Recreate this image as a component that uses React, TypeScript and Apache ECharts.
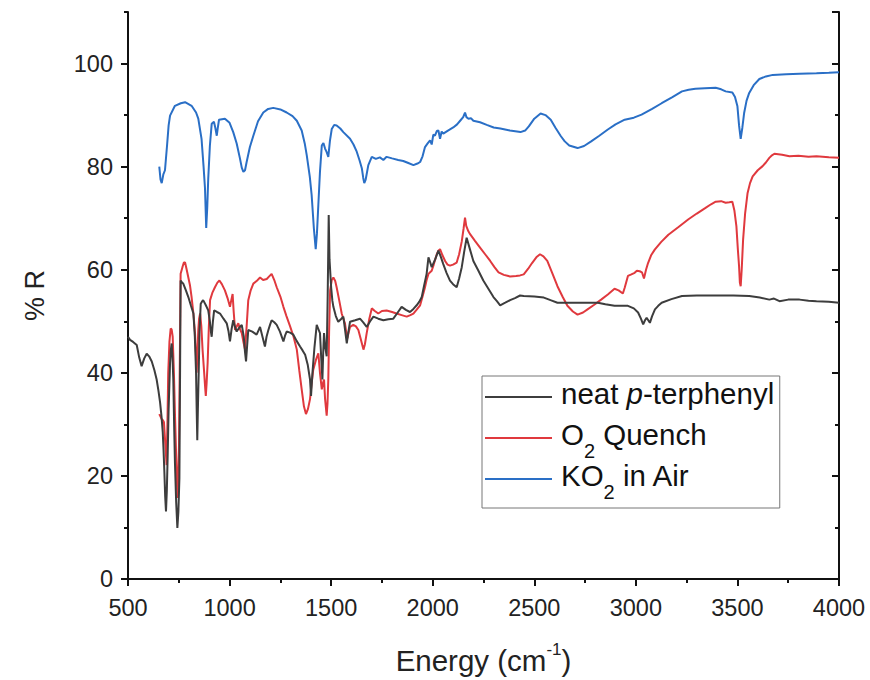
import React, { useEffect, useRef } from "react";
import * as echarts from "echarts";

const FONT = "'Liberation Sans', Arial, sans-serif";

const seriesNames = ["neat p-terphenyl", "O2 Quench", "KO2 in Air"];
const seriesColors = ["#3d3d3d", "#e0393e", "#2a6fc6"];

const xTicks = { min: 500, max: 4000, interval: 500 };
const yTicks = { min: 0, max: 110, interval: 20 };

const neatTerphenyl: [number, number][] = [
  [500, 47], [510, 46.4], [525, 46], [543, 45.4], [555, 43], [567, 41.3], [580, 42.8], [592, 43.7], [604, 43.2], [617, 42.2],
  [630, 40.5], [641, 38.7], [650, 36.5], [658, 34.2], [665, 31.5], [671, 28.5], [675, 25], [679, 20.8], [683, 16], [687, 13.1],
  [691, 17], [695, 23.4], [700, 33], [707, 41.9], [711, 44.5], [715, 45.7], [719, 43], [723, 38.7], [727, 30], [731, 22.7],
  [737, 15], [743, 9.9], [748, 13], [753, 19.5], [756, 38], [759, 57.9], [765, 57.6], [772, 57.3], [785, 56], [797, 54.7],
  [810, 53], [822, 51.5], [829, 47], [835, 40], [838, 33], [841, 26.9], [844, 33], [848, 40], [852, 48], [858, 53.4],
  [864, 53.8], [870, 54.1], [882, 53.2], [895, 52.1], [903, 50], [908, 48], [912, 47], [918, 50], [924, 52.1], [938, 51.8],
  [953, 51.5], [970, 50.5], [986, 49.6], [995, 48], [1002, 46.1], [1010, 48.5], [1018, 50.2], [1026, 49], [1035, 48], [1048, 48.8],
  [1060, 49.3], [1070, 47], [1076, 44], [1081, 42.2], [1086, 45], [1092, 48.3], [1112, 48], [1133, 47.4], [1142, 48.2], [1150, 48.9],
  [1162, 47], [1174, 45.1], [1182, 47], [1191, 48.3], [1199, 49.3], [1207, 50.2], [1220, 49.8], [1232, 49.3], [1248, 48], [1265, 46.1],
  [1273, 47.2], [1281, 48], [1298, 47.8], [1314, 47.4], [1330, 46.2], [1347, 45.1], [1360, 44.3], [1372, 43.5], [1385, 41.5], [1396, 38.7],
  [1401, 35.5], [1408, 40], [1418, 45], [1429, 49.3], [1437, 48.5], [1445, 47.7], [1451, 43], [1457, 38.7], [1461, 44], [1465, 47.7],
  [1471, 45], [1478, 43.2], [1483, 55], [1488, 70.6], [1492, 62], [1500, 56.6], [1506, 54], [1511, 52.8], [1523, 51], [1535, 49.9],
  [1548, 50.4], [1560, 50.9], [1568, 48.5], [1577, 45.7], [1585, 48], [1593, 49.9], [1618, 50.2], [1642, 50.5], [1658, 49.8], [1675, 48.9],
  [1692, 50], [1708, 50.9], [1732, 50.5], [1757, 50.2], [1782, 50.4], [1806, 50.5], [1826, 51.6], [1847, 52.8], [1868, 52.2], [1888, 51.8],
  [1905, 52.4], [1921, 53.1], [1934, 53.8], [1946, 54.7], [1958, 57], [1970, 59.2], [1979, 62.4], [1987, 61.5], [1995, 60.5], [2012, 62],
  [2028, 63.7], [2040, 62.5], [2052, 61.1], [2068, 59.4], [2085, 57.9], [2100, 57.2], [2118, 56.6], [2130, 58.3], [2143, 60.5], [2155, 63.5],
  [2167, 66.2], [2183, 64], [2200, 61.7], [2225, 59.8], [2249, 57.9], [2274, 56.3], [2299, 54.7], [2316, 53.9], [2332, 53.1], [2357, 53.6],
  [2381, 54.1], [2405, 54.5], [2430, 55], [2448, 54.9], [2500, 54.8], [2547, 54.6], [2580, 54.1], [2614, 53.6], [2670, 53.6], [2730, 53.6],
  [2780, 53.6], [2813, 53.6], [2850, 53.3], [2895, 53], [2930, 53], [2961, 53], [2990, 52.5], [3011, 51.7], [3025, 50.5], [3036, 49.4],
  [3045, 50.2], [3053, 50.7], [3061, 50.2], [3069, 49.7], [3080, 51], [3094, 52.3], [3110, 53], [3127, 53.6], [3175, 54.3], [3227, 54.9],
  [3300, 55], [3393, 55], [3480, 55], [3558, 54.9], [3610, 54.6], [3657, 54.2], [3680, 54.4], [3707, 53.9], [3750, 54.2], [3806, 54.2],
  [3850, 54], [3889, 53.9], [3950, 53.8], [4000, 53.6],
];

const o2Quench: [number, number][] = [
  [654, 32], [660, 31.5], [666, 31], [672, 30.8], [677, 30.4], [684, 26], [690, 22.1], [694, 30], [698, 40], [704, 46],
  [710, 48.6], [715, 48.4], [720, 47], [726, 40], [731, 32.3], [737, 24], [743, 15.7], [747, 19], [751, 25.9], [755, 42],
  [759, 59.2], [768, 60.5], [775, 61.4], [781, 61.4], [789, 60], [797, 58.5], [805, 57], [813, 54.7], [822, 51.5], [830, 47.7],
  [834, 44], [838, 40], [842, 44], [846, 48.3], [850, 50.5], [855, 51.5], [861, 49], [867, 44.5], [875, 40], [880, 37],
  [883, 35.5], [887, 38], [892, 41.9], [898, 49], [904, 54.1], [915, 55.5], [928, 56.6], [940, 57.5], [950, 57.9], [962, 57.2],
  [977, 56], [990, 54.5], [1002, 52.8], [1008, 54], [1015, 55.3], [1020, 52], [1027, 48.3], [1035, 49], [1043, 49.6], [1051, 48.5],
  [1060, 47.7], [1068, 46], [1076, 44.5], [1084, 49], [1092, 54.1], [1104, 56], [1117, 57.3], [1133, 57.8], [1150, 58.5], [1165, 58],
  [1183, 58.2], [1195, 58.7], [1207, 59.2], [1220, 58], [1232, 56.6], [1250, 54.8], [1265, 52.8], [1280, 51], [1298, 49], [1315, 47],
  [1331, 44.5], [1343, 40.5], [1355, 36.8], [1366, 33.5], [1376, 32], [1386, 33], [1396, 34.9], [1404, 38], [1412, 40.6], [1425, 42.5],
  [1437, 43.8], [1445, 40], [1454, 36.8], [1460, 38], [1465, 38.7], [1470, 35], [1478, 31.7], [1482, 34], [1486, 38.7], [1490, 48],
  [1495, 56], [1503, 58], [1511, 58.5], [1520, 57.8], [1527, 56.6], [1540, 54], [1552, 51.5], [1560, 50.5], [1568, 49.6], [1574, 48],
  [1580, 46.7], [1586, 47.8], [1593, 48.9], [1609, 49.3], [1622, 49], [1634, 48.3], [1646, 46.5], [1659, 44.5], [1666, 45.5], [1675, 47.7],
  [1688, 50.5], [1700, 52.5], [1715, 52], [1732, 51.5], [1750, 52], [1773, 52.1], [1800, 51.8], [1822, 51.5], [1847, 51.2], [1872, 50.9],
  [1890, 51.2], [1905, 51.5], [1920, 52.2], [1938, 53.1], [1950, 54.8], [1962, 56.6], [1970, 58], [1979, 59.2], [1987, 59.5], [1995, 59.8],
  [2005, 61], [2020, 63], [2028, 63.7], [2036, 64], [2048, 62.8], [2061, 61.7], [2073, 61], [2085, 60.8], [2100, 61], [2118, 61.4],
  [2130, 63], [2143, 65.5], [2152, 68], [2159, 70.1], [2165, 68.5], [2175, 67.5], [2184, 66.9], [2208, 65.6], [2233, 64.3], [2258, 63],
  [2283, 61.7], [2304, 60.5], [2324, 59.5], [2350, 59], [2381, 58.7], [2410, 58.8], [2430, 58.9], [2448, 59.1], [2470, 60.2], [2489, 61.3],
  [2510, 62.4], [2528, 63], [2545, 62.6], [2564, 61.7], [2590, 59.2], [2614, 56.8], [2640, 54.7], [2663, 53], [2690, 51.9], [2713, 51.3],
  [2740, 51.7], [2762, 52.3], [2795, 53.2], [2829, 54.2], [2862, 55.2], [2895, 56.3], [2915, 56], [2936, 55.4], [2945, 56.5], [2961, 58.8],
  [2978, 59.1], [2994, 59.4], [3005, 59.8], [3019, 59.7], [3030, 59.5], [3040, 58.3], [3050, 60], [3060, 61.3], [3075, 62.8], [3093, 63.9],
  [3125, 65.4], [3160, 66.8], [3210, 68.3], [3259, 69.8], [3300, 70.9], [3343, 72], [3370, 72.7], [3393, 73.2], [3420, 73.3], [3442, 73],
  [3460, 73.1], [3475, 73.2], [3485, 71.5], [3495, 68.4], [3502, 64], [3508, 60.7], [3512, 57.5], [3516, 56.8], [3521, 60], [3528, 65.9],
  [3538, 71], [3550, 74.9], [3562, 76.8], [3575, 78.1], [3600, 79.3], [3624, 80.1], [3640, 80.8], [3657, 81.7], [3670, 82.2], [3682, 82.5],
  [3720, 82.3], [3756, 82], [3800, 82.1], [3850, 81.9], [3889, 82], [3950, 81.8], [4000, 81.7],
];

const ko2InAir: [number, number][] = [
  [654, 80], [660, 77.5], [666, 76.8], [674, 78.5], [682, 79.3], [692, 84], [700, 88], [707, 89.9], [731, 91.8], [760, 92.3],
  [781, 92.5], [813, 91.8], [835, 90.5], [846, 89.3], [862, 85.4], [872, 80], [879, 75.8], [885, 68.1], [890, 72], [895, 77.7],
  [903, 84], [912, 88.3], [923, 88.7], [930, 87.5], [937, 86], [942, 87.5], [948, 89.1], [977, 89.3], [1000, 88.5], [1018, 86.7],
  [1035, 84.5], [1051, 81.6], [1060, 79.8], [1068, 79], [1076, 79.3], [1084, 80.9], [1100, 83.8], [1117, 86], [1140, 88.8], [1166, 90.5],
  [1190, 91.2], [1215, 91.4], [1250, 91.1], [1281, 90.5], [1310, 89.8], [1331, 88.9], [1355, 87], [1370, 84.5], [1380, 82.2], [1395, 78],
  [1404, 74.5], [1415, 68], [1424, 64], [1430, 67], [1437, 72.6], [1445, 79], [1454, 84.1], [1462, 84.6], [1470, 83.5], [1478, 82.8],
  [1486, 81.9], [1494, 85], [1503, 87.3], [1515, 88.1], [1527, 88], [1545, 87.4], [1560, 86.7], [1593, 85.4], [1610, 84.3], [1626, 82.9],
  [1640, 81.2], [1651, 79.7], [1658, 77.8], [1663, 76.8], [1670, 77.5], [1683, 80.3], [1700, 81.9], [1720, 81.5], [1740, 81.8], [1757, 81.3],
  [1773, 81.9], [1800, 81.6], [1830, 81.3], [1855, 81.1], [1880, 80.7], [1905, 80.3], [1925, 80.6], [1938, 80.9], [1950, 82], [1962, 83.8],
  [1975, 84.5], [1987, 85.1], [1995, 84.3], [2003, 86.2], [2011, 86], [2020, 86.9], [2028, 87], [2036, 85.4], [2044, 86.8], [2052, 86.4],
  [2075, 87], [2101, 87.6], [2120, 88.2], [2135, 88.9], [2150, 89.6], [2159, 90.5], [2166, 89.6], [2176, 89.3], [2188, 89.4], [2200, 88.9],
  [2233, 88.6], [2266, 88.1], [2300, 87.6], [2333, 87.4], [2380, 87], [2432, 86.7], [2455, 87], [2473, 87.8], [2500, 89.3], [2531, 90.3],
  [2555, 90], [2581, 89.1], [2605, 87.5], [2631, 85.9], [2650, 84.9], [2672, 84.1], [2713, 83.6], [2745, 84], [2780, 84.9], [2820, 86],
  [2862, 87.2], [2900, 88.2], [2945, 89.1], [2990, 89.5], [3028, 90.1], [3080, 91.2], [3127, 92.3], [3180, 93.5], [3227, 94.6], [3260, 94.9],
  [3293, 95.1], [3340, 95.2], [3393, 95.3], [3420, 95], [3442, 94.6], [3475, 94.4], [3488, 93.5], [3500, 91.7], [3508, 88], [3516, 85.4],
  [3524, 87.5], [3533, 90.4], [3545, 92.8], [3558, 94.3], [3580, 95.8], [3608, 97], [3640, 97.5], [3674, 97.8], [3740, 97.9], [3806, 98],
  [3889, 98.1], [3950, 98.2], [4000, 98.3],
];

const seriesData = [neatTerphenyl, o2Quench, ko2InAir];

const legendRich = {
  a: { fontSize: 29.5, fontFamily: FONT, color: "#111", lineHeight: 38, verticalAlign: "top" as const },
  i: { fontSize: 29.5, fontFamily: FONT, color: "#111", fontStyle: "italic" as const, lineHeight: 38, verticalAlign: "top" as const },
  s: { fontSize: 20, fontFamily: FONT, color: "#111", lineHeight: 16, padding: [22, 0, 0, 0], verticalAlign: "top" as const },
};

function legendLabel(name: string): string {
  if (name === "neat p-terphenyl") return "{a|neat }{i|p}{a|-terphenyl}{s| }";
  if (name === "O2 Quench") return "{a|O}{s|2}{a| Quench}";
  if (name === "KO2 in Air") return "{a|KO}{s|2}{a| in Air}";
  return name;
}

export default function App() {
  const ref = useRef<HTMLDivElement>(null);
  useEffect(() => {
    if (!ref.current) return;
    const chart = echarts.init(ref.current, undefined, { renderer: "svg" });
    const axisLine = { show: true, lineStyle: { color: "#111", width: 2 } };
    const majorLabel = { fontSize: 23.5, fontFamily: FONT, color: "#222", formatter: (v: number) => String(v) };
    const baseX = {
      type: "value" as const,
      min: xTicks.min,
      max: xTicks.max,
      interval: xTicks.interval,
      splitLine: { show: false },
      axisLine,
      minorTick: { show: true, splitNumber: 2, length: 4, lineStyle: { color: "#111", width: 2 } },
    };
    const majorY = {
      type: "value" as const,
      min: yTicks.min,
      max: yTicks.max,
      interval: yTicks.interval,
      splitLine: { show: false },
      axisLine,
    };
    const minorY = {
      type: "value" as const,
      min: yTicks.min,
      max: yTicks.max,
      interval: 10,
      splitLine: { show: false },
      axisLine: { show: false },
      axisLabel: { show: false },
    };
    chart.setOption({
      animation: false,
      backgroundColor: "#ffffff",
      grid: { left: 128, right: 31, top: 12, bottom: 95, containLabel: false },
      xAxis: [
        {
          ...baseX,
          position: "bottom",
          axisTick: { show: true, inside: false, length: 7, lineStyle: { color: "#111", width: 2 } },
          axisLabel: { ...majorLabel, margin: 17 },
          name: "{a|Energy (cm}{b|-1}{a|)}",
          nameLocation: "middle",
          nameGap: 62,
          nameTextStyle: {
            rich: {
              a: { fontSize: 29.5, fontFamily: FONT, color: "#222", lineHeight: 34, verticalAlign: "bottom" },
              b: { fontSize: 17, fontFamily: FONT, color: "#222", lineHeight: 17, verticalAlign: "top" },
            },
          },
        },
        {
          ...baseX,
          position: "top",
          axisTick: { show: true, inside: true, length: 7, lineStyle: { color: "#111", width: 2 } },
          minorTick: { show: true, splitNumber: 2, length: 4, lineStyle: { color: "#111", width: 2 } },
          axisLabel: { show: false },
        },
      ],
      yAxis: [
        {
          ...majorY,
          position: "left",
          axisTick: { show: true, inside: false, length: 7, lineStyle: { color: "#111", width: 2 } },
          axisLabel: { ...majorLabel, margin: 15, showMaxLabel: false },
          name: "% R",
          nameLocation: "middle",
          nameRotate: 90,
          nameGap: 80,
          nameTextStyle: { fontSize: 27, fontFamily: FONT, color: "#222" },
        },
        {
          ...majorY,
          position: "right",
          axisTick: { show: true, inside: true, length: 7, lineStyle: { color: "#111", width: 2 } },
          axisLabel: { show: false },
        },
        {
          ...minorY,
          position: "left",
          axisTick: { show: true, inside: false, length: 4, lineStyle: { color: "#111", width: 2 } },
        },
        {
          ...minorY,
          position: "right",
          axisTick: { show: true, inside: true, length: 4, lineStyle: { color: "#111", width: 2 } },
        },
      ],
      legend: {
        orient: "vertical",
        left: 482,
        top: 376,
        icon: "rect",
        itemWidth: 67,
        itemHeight: 2,
        itemGap: -1,
        padding: [2, 0, 6, 3],
        borderColor: "#777",
        borderWidth: 1,
        backgroundColor: "#fff",
        data: seriesNames,
        formatter: legendLabel,
        textStyle: { fontFamily: FONT, fontSize: 29.5, color: "#111", padding: [0, 0, 0, 4], rich: legendRich },
      },
      series: seriesNames.map((name, k) => ({
        name,
        type: "line",
        data: seriesData[k],
        xAxisIndex: 0,
        yAxisIndex: 0,
        showSymbol: false,
        symbol: "none",
        lineStyle: { color: seriesColors[k], width: 2 },
        itemStyle: { color: seriesColors[k] },
        z: 3 - k,
      })),
    });
    return () => chart.dispose();
  }, []);
  return (
    <div
      ref={ref}
      style={{ position: "fixed", left: 0, top: 0, width: 870, height: 680 }}
    />
  );
}
